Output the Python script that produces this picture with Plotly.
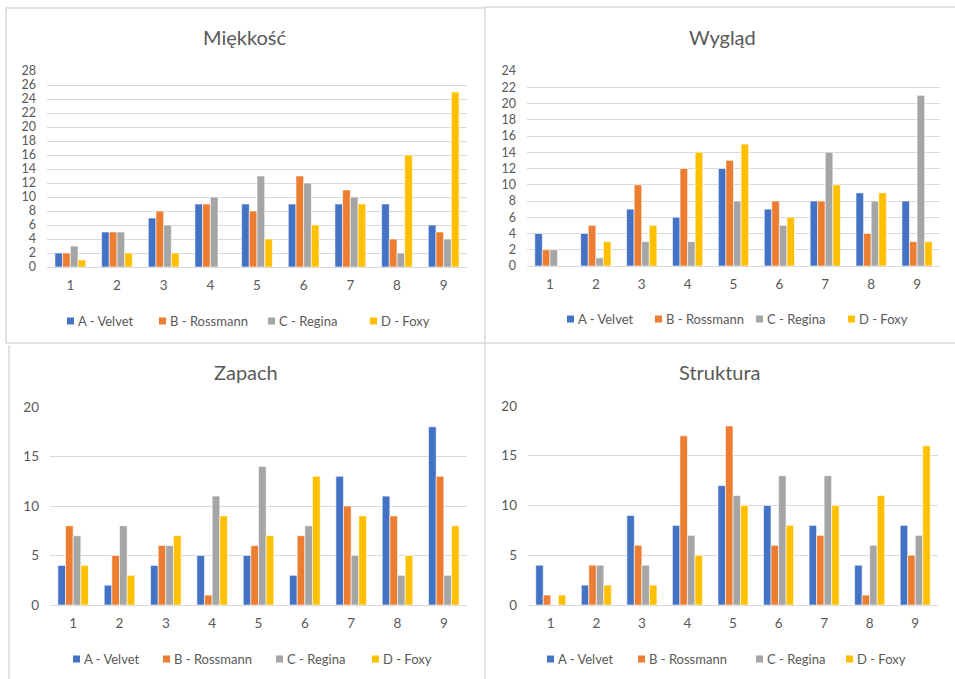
import plotly.graph_objects as go

W, H = 955, 679

categories = ["1", "2", "3", "4", "5", "6", "7", "8", "9"]
series_names = ["A - Velvet", "B - Rossmann", "C - Regina", "D - Foxy"]
series_colors = ["#4472C4", "#ED7D31", "#A5A5A5", "#FFC000"]

# Miękkość
miekkosc_a = [2, 5, 7, 9, 9, 9, 9, 9, 6]
miekkosc_b = [2, 5, 8, 9, 8, 13, 11, 4, 5]
miekkosc_c = [3, 5, 6, 10, 13, 12, 10, 2, 4]
miekkosc_d = [1, 2, 2, 0, 4, 6, 9, 16, 25]

# Wygląd
wyglad_a = [4, 4, 7, 6, 12, 7, 8, 9, 8]
wyglad_b = [2, 5, 10, 12, 13, 8, 8, 4, 3]
wyglad_c = [2, 1, 3, 3, 8, 5, 14, 8, 21]
wyglad_d = [0, 3, 5, 14, 15, 6, 10, 9, 3]

# Zapach
zapach_a = [4, 2, 4, 5, 5, 3, 13, 11, 18]
zapach_b = [8, 5, 6, 1, 6, 7, 10, 9, 13]
zapach_c = [7, 8, 6, 11, 14, 8, 5, 3, 3]
zapach_d = [4, 3, 7, 9, 7, 13, 9, 5, 8]

# Struktura
struktura_a = [4, 2, 9, 8, 12, 10, 8, 4, 8]
struktura_b = [1, 4, 6, 17, 18, 6, 7, 1, 5]
struktura_c = [0, 4, 4, 7, 11, 13, 13, 6, 7]
struktura_d = [1, 2, 2, 5, 10, 8, 10, 11, 16]

FONT = "Lato, 'Open Sans', sans-serif"
TXT = "#595959"
GRID = "#d9d9d9"


def px(x):
    return x / W


def py(y):
    return 1 - y / H


# per panel: title, data, y max, y step, plot box (left, right, top, bottom px),
# title centre, legend row y and the x of each legend swatch
panels = [
    dict(title="Miękkość", data=[miekkosc_a, miekkosc_b, miekkosc_c, miekkosc_d],
         ymax=28, dtick=2, yfont=12.5, box=(47, 467, 71, 267), tpos=(245, 37),
         ly=321, lx=[67, 159, 268, 370]),
    dict(title="Wygląd", data=[wyglad_a, wyglad_b, wyglad_c, wyglad_d],
         ymax=24, dtick=2, yfont=12.5, box=(527, 940, 71, 266), tpos=(722, 37),
         ly=319, lx=[567, 655, 756, 848]),
    dict(title="Zapach", data=[zapach_a, zapach_b, zapach_c, zapach_d],
         ymax=20, dtick=5, yfont=13.5, box=(50, 467, 407, 605), tpos=(246, 372),
         ly=659, lx=[73, 163, 276, 372]),
    dict(title="Struktura", data=[struktura_a, struktura_b, struktura_c, struktura_d],
         ymax=20, dtick=5, yfont=13.5, box=(528, 938, 406, 605), tpos=(720, 372),
         ly=659, lx=[547, 638, 756, 846]),
]

fig = go.Figure()
layout = dict(
    width=W, height=H,
    margin=dict(l=0, r=0, t=0, b=0, autoexpand=False),
    paper_bgcolor="white", plot_bgcolor="white",
    barmode="group", bargap=0.34, bargroupgap=0.0,
    font=dict(family=FONT, color=TXT, size=12),
    showlegend=False,
    annotations=[], shapes=[],
)

SW = 7  # legend swatch size, px

for i, p in enumerate(panels):
    k = "" if i == 0 else str(i + 1)
    xa, ya = "x" + k, "y" + k
    for j, name in enumerate(series_names):
        fig.add_trace(go.Bar(
            x=categories, y=p["data"][j], name=name,
            marker=dict(color=series_colors[j], line=dict(color="white", width=0.6)),
            xaxis=xa, yaxis=ya,
        ))
        # legend entry: coloured swatch + series name
        sx = p["lx"][j]
        layout["shapes"].append(dict(
            type="rect", xref="paper", yref="paper",
            x0=px(sx), x1=px(sx + SW), y0=py(p["ly"] + SW / 2), y1=py(p["ly"] - SW / 2),
            fillcolor=series_colors[j], line=dict(width=0),
        ))
        layout["annotations"].append(dict(
            text=name, x=px(sx + SW + 2), y=py(p["ly"]), xref="paper", yref="paper",
            xanchor="left", yanchor="middle", showarrow=False,
            font=dict(size=13, color=TXT, family=FONT),
        ))
    l, r, t, b = p["box"]
    layout["xaxis" + k] = dict(
        domain=[px(l), px(r)], anchor=ya, type="category", automargin=False,
        showgrid=False, zeroline=False, showline=False, ticks="",
        tickfont=dict(size=13.5, color=TXT), ticklabelstandoff=8,
        fixedrange=True,
    )
    layout["yaxis" + k] = dict(
        domain=[py(b), py(t)], anchor=xa, range=[0, p["ymax"]], dtick=p["dtick"],
        automargin=False,
        showgrid=True, gridcolor=GRID, gridwidth=1, zeroline=True,
        zerolinecolor=GRID, zerolinewidth=1, showline=False, ticks="",
        tickfont=dict(size=p["yfont"], color=TXT), ticklabelstandoff=10,
        fixedrange=True,
    )
    layout["annotations"].append(dict(
        text=p["title"], x=px(p["tpos"][0]), y=py(p["tpos"][1]),
        xref="paper", yref="paper", xanchor="center", yanchor="middle",
        showarrow=False, font=dict(size=20, color=TXT, family=FONT),
    ))

# panel frames
frame_lines = [
    (6, 8, 485, 8), (485, 7, 955, 7),
    (6, 8, 6, 343), (9, 345, 9, 679),
    (485, 7, 485, 679),
    (6, 343, 955, 343),
]
for x0, y0, x1, y1 in frame_lines:
    layout["shapes"].append(dict(
        type="line", xref="paper", yref="paper",
        x0=px(x0), y0=py(y0), x1=px(x1), y1=py(y1),
        line=dict(color=GRID, width=1.5),
    ))

fig.update_layout(**layout)
fig.write_html("out.html")
